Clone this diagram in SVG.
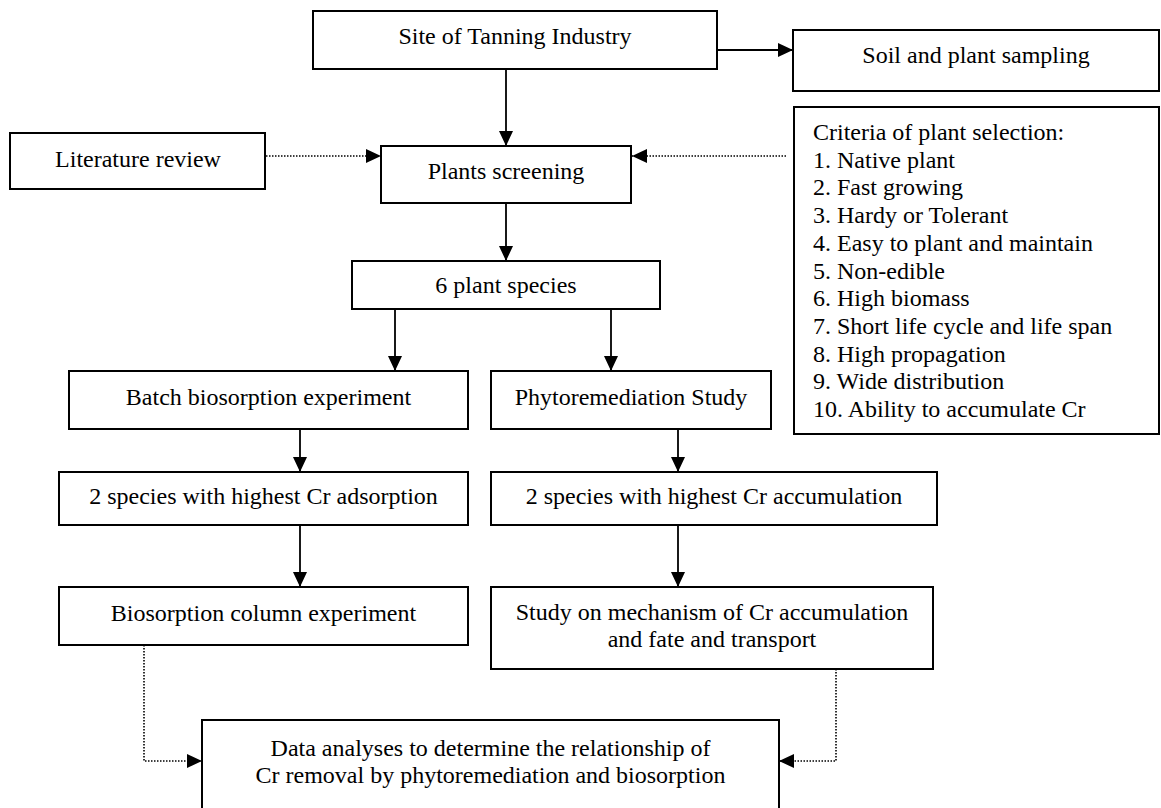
<svg xmlns="http://www.w3.org/2000/svg" width="1161" height="808" viewBox="0 0 1161 808">
<style>
.box{fill:#fff;stroke:#000;stroke-width:2}
.t{font-family:"Liberation Serif","Times New Roman",serif;font-size:24px;fill:#000}
.c{text-anchor:middle}
.ln{fill:none;stroke:#000;stroke-width:1.8}
.dt{fill:none;stroke:#000;stroke-width:1.6;stroke-dasharray:1.5 1.5}
</style>
<defs>
<marker id="ah" markerUnits="userSpaceOnUse" markerWidth="15" markerHeight="14" refX="15" refY="7" orient="auto">
<path d="M0,0 L15,7 L0,14 z" fill="#000"/>
</marker>
</defs>
<rect width="1161" height="808" fill="#fff"/>
<g id="connectors">
<line class="ln" x1="506" y1="69" x2="506" y2="146" marker-end="url(#ah)"/>
<line class="ln" x1="717" y1="50" x2="793" y2="50" marker-end="url(#ah)"/>
<line class="dt" x1="266" y1="156" x2="381" y2="156" marker-end="url(#ah)"/>
<line class="dt" x1="786" y1="156" x2="632" y2="156" marker-end="url(#ah)"/>
<line class="ln" x1="506" y1="203" x2="506" y2="261" marker-end="url(#ah)"/>
<line class="ln" x1="395" y1="309" x2="395" y2="371" marker-end="url(#ah)"/>
<line class="ln" x1="611" y1="309" x2="611" y2="371" marker-end="url(#ah)"/>
<line class="ln" x1="300" y1="429" x2="300" y2="472" marker-end="url(#ah)"/>
<line class="ln" x1="678" y1="429" x2="678" y2="472" marker-end="url(#ah)"/>
<line class="ln" x1="300" y1="525" x2="300" y2="587" marker-end="url(#ah)"/>
<line class="ln" x1="678" y1="525" x2="678" y2="587" marker-end="url(#ah)"/>
<polyline class="dt" points="144,645 144,761 202,761" marker-end="url(#ah)"/>
<polyline class="dt" points="836,669 836,761 779,761" marker-end="url(#ah)"/>
</g>
<g id="site">
<rect class="box" x="313" y="11" width="404" height="58"/>
<text class="t c" x="515" y="44">Site of Tanning Industry</text>
</g>
<g id="soil">
<rect class="box" x="793" y="30" width="366" height="61"/>
<text class="t c" x="976" y="63">Soil and plant sampling</text>
</g>
<g id="literature">
<rect class="box" x="10" y="133" width="255" height="56"/>
<text class="t c" x="138" y="167">Literature review</text>
</g>
<g id="screening">
<rect class="box" x="381" y="146" width="250" height="57"/>
<text class="t c" x="506" y="179">Plants screening</text>
</g>
<g id="criteria">
<rect class="box" x="794" y="107" width="365" height="327"/>
<text class="t" x="813" y="140">Criteria of plant selection:</text>
<text class="t" x="813" y="167.7">1. Native plant</text>
<text class="t" x="813" y="195.4">2. Fast growing</text>
<text class="t" x="813" y="223.1">3. Hardy or Tolerant</text>
<text class="t" x="813" y="250.8">4. Easy to plant and maintain</text>
<text class="t" x="813" y="278.5">5. Non-edible</text>
<text class="t" x="813" y="306.2">6. High biomass</text>
<text class="t" x="813" y="333.9">7. Short life cycle and life span</text>
<text class="t" x="813" y="361.6">8. High propagation</text>
<text class="t" x="813" y="389.3">9. Wide distribution</text>
<text class="t" x="813" y="417">10. Ability to accumulate Cr</text>
</g>
<g id="species6">
<rect class="box" x="352" y="261" width="308" height="48"/>
<text class="t c" x="506" y="293">6 plant species</text>
</g>
<g id="batch">
<rect class="box" x="69" y="371" width="399" height="58"/>
<text class="t c" x="268.5" y="405">Batch biosorption experiment</text>
</g>
<g id="phyto">
<rect class="box" x="491" y="371" width="280" height="58"/>
<text class="t c" x="631" y="405">Phytoremediation Study</text>
</g>
<g id="adsorption">
<rect class="box" x="59" y="472" width="409" height="53"/>
<text class="t c" x="263.5" y="504">2 species with highest Cr adsorption</text>
</g>
<g id="accumulation">
<rect class="box" x="491" y="472" width="446" height="53"/>
<text class="t c" x="714" y="504">2 species with highest Cr accumulation</text>
</g>
<g id="column">
<rect class="box" x="59" y="587" width="409" height="58"/>
<text class="t c" x="263.5" y="621">Biosorption column experiment</text>
</g>
<g id="mechanism">
<rect class="box" x="491" y="587" width="442" height="82"/>
<text class="t c" x="712" y="620">Study on mechanism of Cr accumulation</text>
<text class="t c" x="712" y="647">and fate and transport</text>
</g>
<g id="analyses">
<rect class="box" x="202" y="720" width="577" height="100"/>
<text class="t c" x="490.5" y="756">Data analyses to determine the relationship of</text>
<text class="t c" x="490.5" y="783">Cr removal by phytoremediation and biosorption</text>
</g>
</svg>
